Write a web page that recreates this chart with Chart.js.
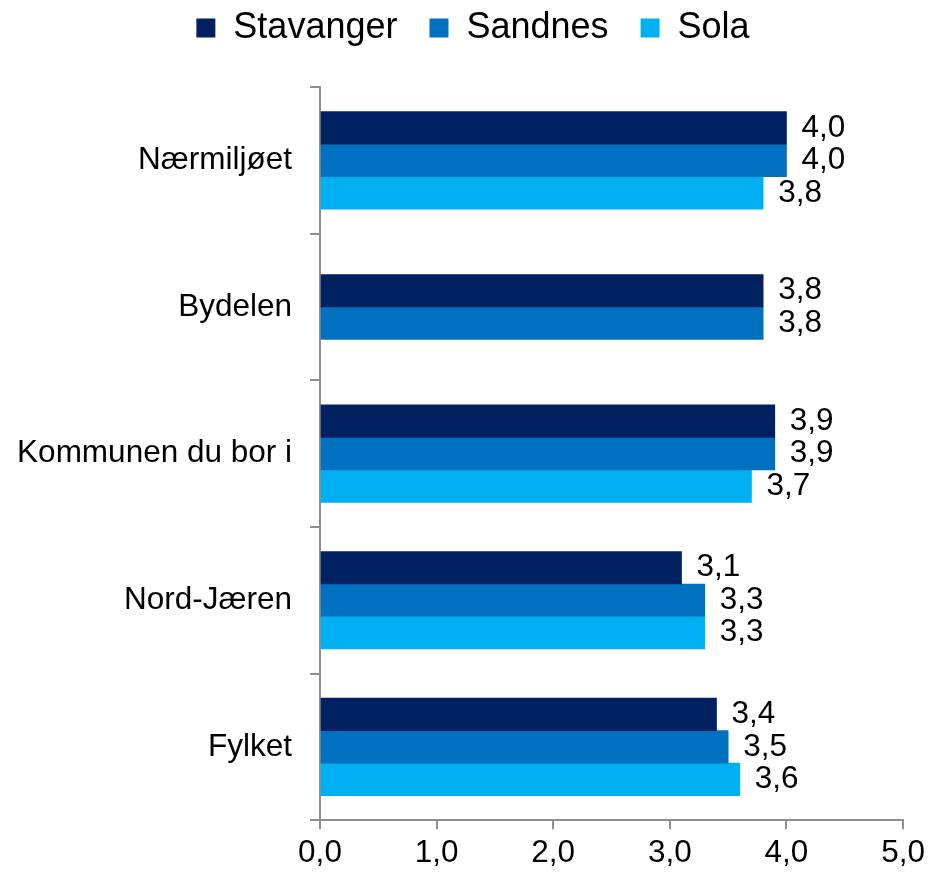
<!DOCTYPE html>
<html>
<head>
<meta charset="utf-8">
<script src="https://cdn.jsdelivr.net/npm/chart.js@4"></script>
<style>
  html, body { margin: 0; padding: 0; background: #fff; }
  #wrap { width: 930px; height: 872px; }
</style>
</head>
<body>
<div id="wrap"><canvas id="grafikk"></canvas></div>
<script>
// data
const kategorier = ['Nærmiljøet', 'Bydelen', 'Kommunen du bor i', 'Nord-Jæren', 'Fylket'];
const stavanger = [4.0, 3.8, 3.9, 3.1, 3.4];
const sandnes = [4.0, 3.8, 3.9, 3.3, 3.5];
const sola = [3.8, null, 3.7, 3.3, 3.6];
const xTicks = [0, 1, 2, 3, 4, 5];

const FONT = 'Liberation Sans, Arial, sans-serif';
const AKSE = '#8f8f8f';

function komma(v) {
    return v.toFixed(1).replace('.', ',');
}

// verdier til høyre for hver stolpe
const verdiEtiketter = {
    id: 'verdiEtiketter',
    afterDatasetsDraw(chart) {
        const ctx = chart.ctx;
        ctx.save();
        ctx.font = '31.5px ' + FONT;
        ctx.fillStyle = '#000';
        ctx.textAlign = 'left';
        ctx.textBaseline = 'middle';
        chart.data.datasets.forEach((ds, i) => {
            chart.getDatasetMeta(i).data.forEach((bar, j) => {
                const v = ds.data[j];
                if (v === null || v === undefined) return;
                ctx.fillText(komma(v), bar.x + 15, bar.y);
            });
        });
        ctx.restore();
    }
};

// mer luft under legenden
const legendeHoyde = {
    id: 'legendeHoyde',
    afterInit(chart) {
        const legend = chart.legend;
        const fit = legend.fit;
        legend.fit = function () {
            fit.call(this);
            this.height = 109;
        };
    }
};

new Chart(document.getElementById('grafikk'), {
    type: 'bar',
    data: {
        labels: kategorier,
        datasets: [
            { label: 'Stavanger', data: stavanger, backgroundColor: '#002060' },
            { label: 'Sandnes', data: sandnes, backgroundColor: '#0070C0' },
            { label: 'Sola', data: sola, backgroundColor: '#00B0F0' }
        ]
    },
    options: {
        indexAxis: 'y',
        responsive: true,
        maintainAspectRatio: false,
        animation: false,
        layout: { padding: { top: -22, left: 16, right: 0, bottom: -5 } },
        datasets: {
            bar: { barThickness: 32.5, skipNull: true }
        },
        scales: {
            x: {
                min: 0,
                max: 5,
                afterBuildTicks(scale) {
                    scale.ticks = xTicks.map(v => ({ value: v }));
                },
                ticks: {
                    color: '#000',
                    padding: 5,
                    font: { family: FONT, size: 31.5 },
                    callback: v => komma(v)
                },
                grid: { drawOnChartArea: false, drawTicks: true, tickLength: 9, color: AKSE, lineWidth: 2 },
                border: { display: true, color: AKSE, width: 2 }
            },
            y: {
                afterFit(scale) { scale.width = 304; },
                ticks: {
                    color: '#000',
                    padding: 18,
                    font: { family: FONT, size: 31.5 }
                },
                grid: { drawOnChartArea: false, drawTicks: true, tickLength: 10, color: AKSE, lineWidth: 2 },
                border: { display: true, color: AKSE, width: 2 }
            }
        },
        plugins: {
            legend: {
                position: 'top',
                labels: {
                    boxWidth: 19,
                    boxHeight: 19,
                    padding: 32,
                    color: '#000',
                    font: { family: FONT, size: 36 }
                }
            },
            tooltip: { enabled: false }
        }
    },
    plugins: [verdiEtiketter, legendeHoyde]
});
</script>
</body>
</html>
